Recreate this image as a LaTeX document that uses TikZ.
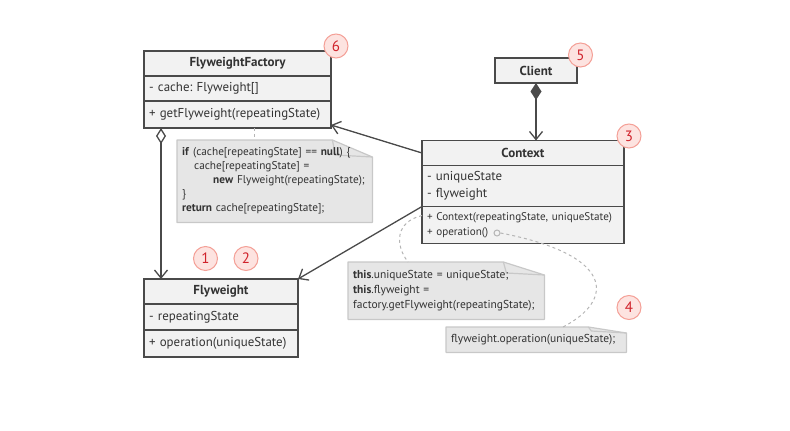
\documentclass[tikz,border=0pt]{standalone}
\usepackage{fontspec}
\setmainfont{PT Sans}
\frenchspacing
\hyphenpenalty=10000
\usetikzlibrary{positioning,arrows.meta,backgrounds}

\definecolor{umlline}{HTML}{4A4A4A}
\definecolor{umlfill}{HTML}{F2F2F2}
\definecolor{umltext}{HTML}{333333}
\definecolor{notefill}{HTML}{E6E6E6}
\definecolor{noteline}{HTML}{C8C8C8}
\definecolor{stepfill}{HTML}{FDE3E0}
\definecolor{stepline}{HTML}{F4A097}
\definecolor{stepred}{HTML}{D0222B}
\definecolor{hintgray}{HTML}{B5B5B5}

\tikzset{
	classhead/.style={draw=umlline,line width=1.3pt,fill=umlfill,text=umltext,outer sep=0pt,inner sep=0pt,minimum height=25pt,font=\fontsize{13}{14}\selectfont\bfseries},
	classrow/.style={draw=umlline,line width=1.3pt,fill=umlfill,text=umltext,outer sep=0pt,inner xsep=5pt,inner ysep=0pt,align=left,text width=#1,font=\fontsize{12.9}{14}\selectfont},
	notebox/.style={anchor=north west,inner xsep=5pt,inner ysep=0pt,align=left,text=umltext,text width=#1,font=\fontsize{11.3}{14}\selectfont},
	stepnum/.style={circle,draw=stepline,line width=1pt,fill=stepfill,text=stepred,minimum size=24pt,inner sep=0pt,font=\fontsize{15}{15}\selectfont},
	assoc/.style={draw=umlline,line width=1.3pt,-{Straight Barb[length=8pt,width=13pt]}},
	hint/.style={draw=hintgray,line width=1pt,dash pattern=on 3pt off 3pt},
}

\newcommand{\foldnote}[3]{%
	\filldraw[fill=notefill,draw=noteline,line width=1.2pt,line join=round] (#1.north west) -- ([xshift=-#2]#1.north east) -- ([yshift=-#3]#1.north east) -- (#1.south east) -- (#1.south west) -- cycle;
	\draw[noteline,line width=1.2pt,line join=round] ([xshift=-#2]#1.north east) -- ([xshift=-#2+3pt,yshift=-#3+2pt]#1.north east) -- ([yshift=-#3]#1.north east);
}

\begin{document}
\begin{tikzpicture}[x=1pt,y=-1pt]
	\useasboundingbox (0,0) rectangle (790,431);

	\node[classhead,minimum width=187pt] (facthead) at (237.5,63.5) {FlyweightFactory};
	\node[classrow=177pt,minimum height=25pt,below=0pt of facthead] (factattr) {- cache: Flyweight[]};
	\node[classrow=177pt,minimum height=27pt,below=0pt of factattr] (factmeth) {+ getFlyweight(repeatingState)};

	\node[classhead,minimum width=82pt] (client) at (536,70.5) {Client};

	\node[classhead,minimum width=202pt] (ctxhead) at (523,153) {Context};
	\node[classrow=192pt,minimum height=41pt,below=0pt of ctxhead,font=\fontsize{12.9}{16.5}\selectfont] (ctxattr) {- uniqueState\\- flyweight};
	\node[classrow=192pt,minimum height=37pt,below=0pt of ctxattr,font=\fontsize{11.1}{15}\selectfont] (ctxmeth) {+ Context(repeatingState, uniqueState)\\+ operation()};

	\node[classhead,minimum width=154pt] (flyhead) at (221,291.5) {Flyweight};
	\node[classrow=144pt,minimum height=26pt,below=0pt of flyhead] (flyattr) {- repeatingState};
	\node[classrow=144pt,minimum height=27pt,below=0pt of flyattr] (flymeth) {+ operation(uniqueState)};

	\node[notebox=185pt,minimum height=82pt] (note1) at (177,140) {\textbf{if} (cache[repeatingState] == \textbf{null}) \{\\
		\hspace*{12pt}cache[repeatingState] =\\
		\hspace*{31pt}\textbf{new}~Flyweight(repeatingState);\\
		\}\\
		\textbf{return} cache[repeatingState];};
	\node[notebox=186pt,minimum height=57pt,font=\fontsize{11.5}{15}\selectfont] (note2) at (348,262) {\textbf{this}.uniqueState = uniqueState;\\
		\textbf{this}.flyweight =\\
		factory.getFlyweight(repeatingState);};
	\node[notebox=170pt,minimum height=25pt,font=\fontsize{11.5}{14}\selectfont] (note3) at (446,327) {flyweight.operation(uniqueState);};

	\begin{scope}[on background layer]
		\foldnote{note1}{40pt}{17pt}
		\foldnote{note2}{41pt}{13pt}
		\foldnote{note3}{38pt}{6pt}
	\end{scope}

	\node[stepnum] (s1) at (205.5,258.5) {1};
	\node[stepnum] (s2) at (246,258.5) {2};
	\node[stepnum] (s3) at (629,136) {3};
	\node[stepnum] (s4) at (629,307.5) {4};
	\node[stepnum] (s5) at (580.5,55) {5};
	\node[stepnum] (s6) at (336,46) {6};

	\draw[assoc] (ctxhead.west) -- ([yshift=3pt]factmeth.south east);
	\draw[assoc] (ctxmeth.north west) -- (flyhead.north east);
	\draw[assoc,{Diamond[fill=white,length=16pt,width=10pt]}-{Straight Barb[length=8pt,width=13pt]}] ([xshift=17pt]factmeth.south west) -- ([xshift=17pt]flyhead.north west);
	\draw[assoc,{Diamond[fill=umlline,length=17pt,width=11pt]}-{Straight Barb[length=8pt,width=13pt]}] (client.south) -- (client.south |- ctxhead.north);

	\draw[hint] ([xshift=110pt]factmeth.south west) -- ([xshift=110pt]factmeth.south west |- note1.north);
	\draw[hint] ([yshift=-9pt]ctxmeth.north west) .. controls (395,222) and (395,245) .. ([xshift=60pt]note2.north west);
	\node[circle,draw=hintgray,line width=1pt,inner sep=0pt,minimum size=6pt] (opdot) at (497,233) {};
	\draw[hint] (opdot.east) .. controls (615,255) and (615,300) .. ([xshift=117pt]note3.north west);
\end{tikzpicture}
\end{document}
